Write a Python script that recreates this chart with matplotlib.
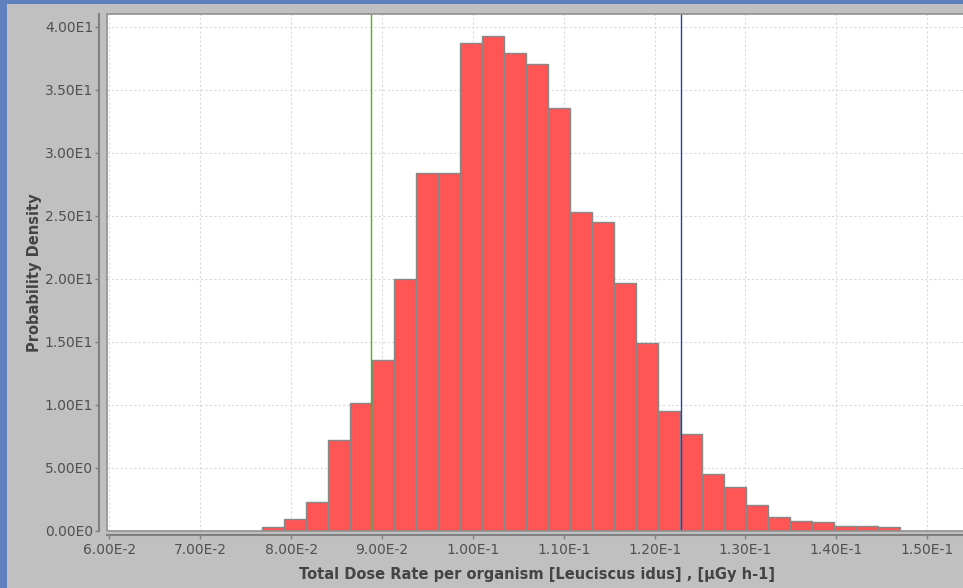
import math

import numpy as np
from matplotlib import pyplot as plt
from matplotlib.patches import Rectangle
from matplotlib.ticker import FuncFormatter, MultipleLocator


# histogram bins
bin_start = 0.07681
bin_width = 0.0024224
density = [0.32, 0.98, 2.33, 7.22, 10.13, 13.6, 20.0, 28.38, 28.38, 38.67,
           39.25, 37.9, 37.03, 33.57, 25.3, 24.47, 19.65, 14.94, 9.55, 7.70,
           4.52, 3.46, 2.03, 1.08, 0.79, 0.68, 0.40, 0.40, 0.32]

# vertical marker lines (green and blue)
lower_mark = 0.08883
upper_mark = 0.12294

x_label = 'Total Dose Rate per organism [Leuciscus idus] , [µGy h-1]'
y_label = 'Probability Density'


def sci_label(value, pos):
    # JFreeChart-like "1.00E-1" style
    if value == 0:
        return '0.00E0'
    exp = int(math.floor(math.log10(abs(value)) + 1e-9))
    mant = value / 10 ** exp
    return f'{mant:.2f}E{exp}'


def main():
    fig = plt.figure(figsize=(9.63, 5.88), dpi=100)
    fig.patch.set_facecolor('#c0c0c0')

    # blue textured frame of the window, drawn flat
    fig.add_artist(Rectangle((0, 0), 7 / 963, 1, transform=fig.transFigure,
                             facecolor='#5f80bd', edgecolor='none'))
    fig.add_artist(Rectangle((0, 1 - 4 / 588), 1, 4 / 588, transform=fig.transFigure,
                             facecolor='#5f80bd', edgecolor='none'))

    ax = fig.add_axes([107 / 963, 57 / 588, 860 / 963, 517 / 588])
    ax.set_facecolor('white')

    edges = bin_start + bin_width * np.arange(len(density))
    ax.bar(edges, density, width=bin_width, align='edge',
           color='#ff5555', edgecolor='#888888', linewidth=1.0, zorder=2)

    ax.axvline(lower_mark, color='#44bb00', linewidth=1.0, zorder=3)
    ax.axvline(upper_mark, color='#2244bb', linewidth=1.0, zorder=3)

    ax.set_xlim(0.05973, 0.05973 + 860 / 9085.7)
    ax.set_ylim(0, 41.0)
    ax.xaxis.set_major_locator(MultipleLocator(0.01))
    ax.yaxis.set_major_locator(MultipleLocator(5))
    ax.xaxis.set_major_formatter(FuncFormatter(sci_label))
    ax.yaxis.set_major_formatter(FuncFormatter(sci_label))

    ax.grid(True, color='#dadada', linestyle=(0, (2, 2)), linewidth=0.8, zorder=0)
    ax.set_axisbelow(True)

    # plot outline
    ax.add_patch(Rectangle((0, 0), 1, 1, transform=ax.transAxes, fill=False,
                           edgecolor='#909090', linewidth=1.2, zorder=5, clip_on=False))

    for side in ['top', 'right']:
        ax.spines[side].set_visible(False)
    ax.spines['left'].set_position(('outward', 6))
    ax.spines['bottom'].set_position(('outward', 3))
    for side in ['left', 'bottom']:
        ax.spines[side].set_color('#808080')
        ax.spines[side].set_linewidth(1.5)

    ax.tick_params(axis='both', colors='#808080', labelcolor='#505050',
                   labelsize=10, length=3, width=1)
    ax.tick_params(axis='y', pad=1)
    ax.tick_params(axis='x', pad=3)

    ax.set_xlabel(x_label, fontsize=10.5, fontweight='bold', color='#444444', labelpad=7)
    ax.set_ylabel(y_label, fontsize=10.5, fontweight='bold', color='#444444', labelpad=2)

    fig.savefig('out.png', dpi=100, facecolor=fig.get_facecolor())


if __name__ == "__main__":
    main()
